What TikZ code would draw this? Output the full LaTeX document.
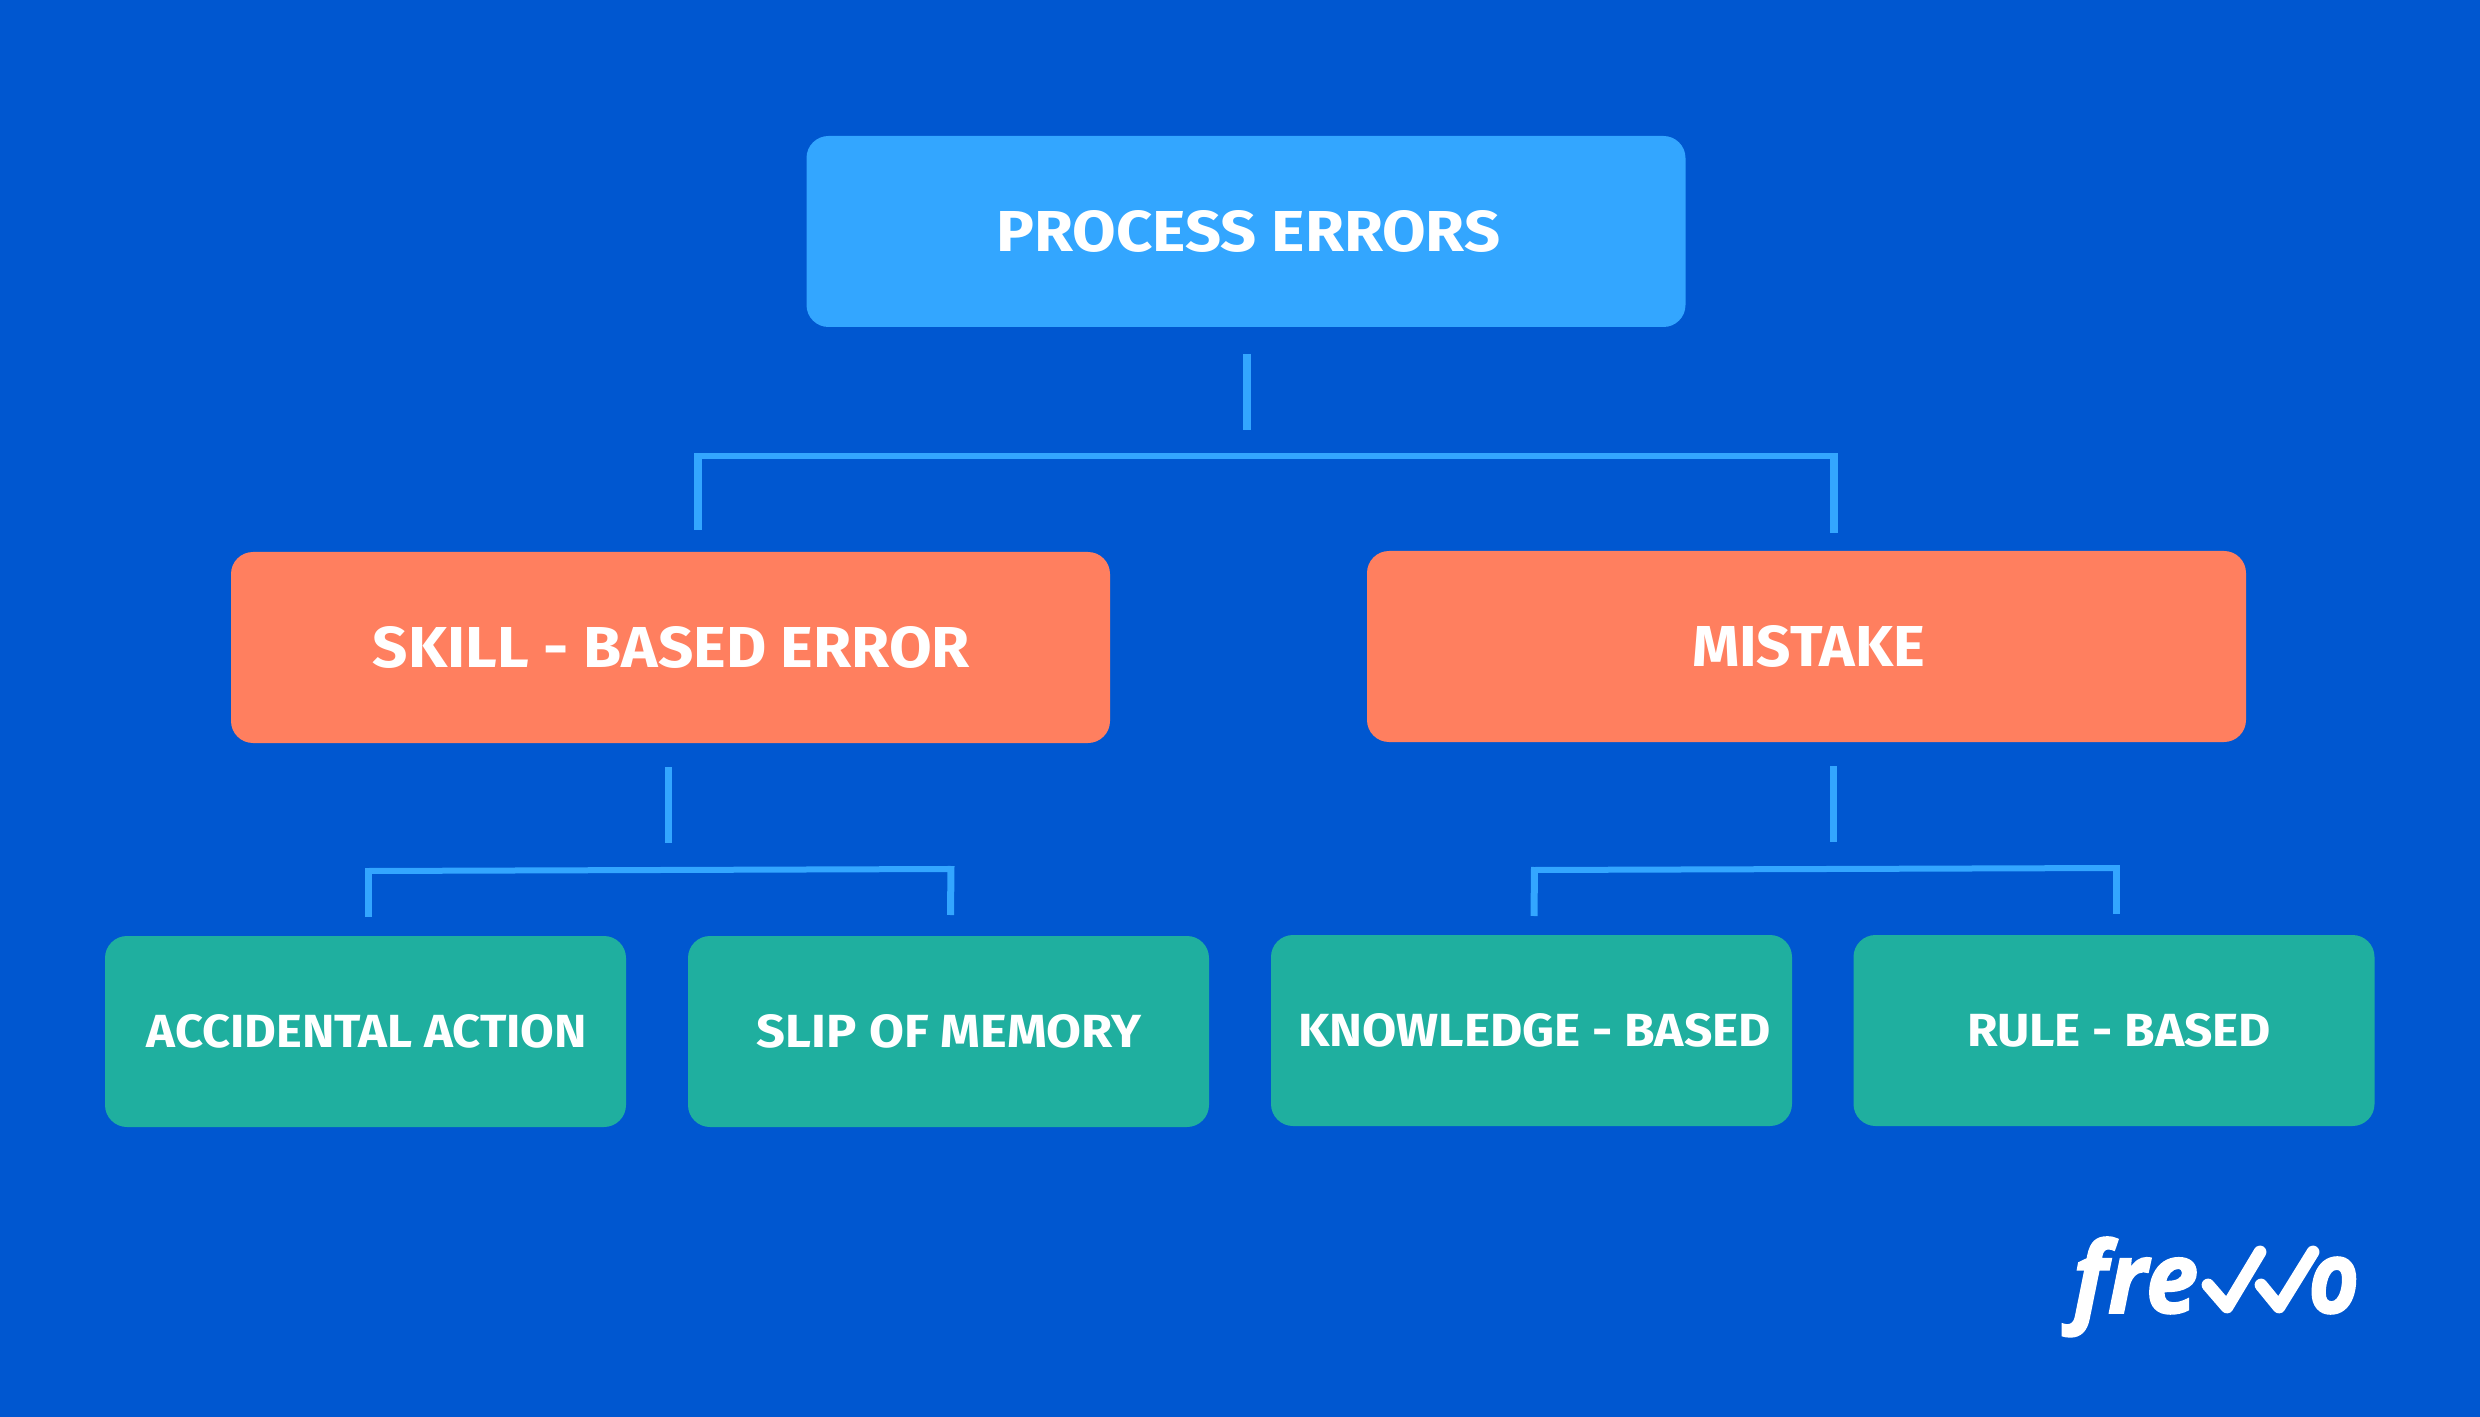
\documentclass[tikz,border=0pt]{standalone}
\usepackage{fontspec}
\usepackage{graphicx}
\setmainfont{Fira Sans}
\newfontfamily\logofont[BoldItalicFeatures={FakeBold=1.6}]{Open Sans}
\definecolor{bgblue}{HTML}{0057D0}
\definecolor{skyblue}{HTML}{33A6FF}
\definecolor{coral}{HTML}{FF7F5F}
\definecolor{teal2}{HTML}{1FAF9F}
\newcommand\lbl[4]{\hspace*{#3pt}\raisebox{-0.6pt}{\resizebox{#1pt}{#2pt}{\bfseries #4}}}
\tikzset{
  box/.style={rounded corners=11pt,inner sep=0pt,text=white,align=center,anchor=center},
  bigbox/.style={box,minimum width=439.5pt,minimum height=95.5pt},
  smallbox/.style={box,minimum width=260.5pt,minimum height=95.5pt},
  topc/.style={bigbox,fill=skyblue},
  midc/.style={bigbox,fill=coral},
  lowc/.style={smallbox,fill=teal2},
  stem/.style={draw=skyblue,line width=4pt},
  thinstem/.style={draw=skyblue,line width=3.5pt},
  brack/.style={draw=skyblue,line width=3pt},
  check/.style={draw=white,line width=6.4pt,line cap=round,line join=round},
  logotext/.style={inner sep=0pt,text=white,font=\logofont\bfseries\itshape}
}
\begin{document}
\begin{tikzpicture}[x=0.5pt,y=-0.5pt]
\useasboundingbox[fill=bgblue] (0,0) rectangle (2480,1417);
% boxes
\node[topc] (top) at (1246,231.5) {\lbl{252}{20.5}{2.5}{PROCESS ERRORS}};
\node[midc] (skill) at (670.5,647.5) {\lbl{298.5}{20.5}{1}{SKILL - BASED ERROR}};
\node[midc] (mistake) at (1806.5,646.5) {\lbl{116.5}{20.5}{2}{MISTAKE}};
\node[lowc] (acc) at (365.5,1031.5) {\lbl{220}{16.5}{1.5}{ACCIDENTAL ACTION}};
\node[lowc] (slip) at (948.5,1031.5) {\lbl{192}{16.5}{0.5}{SLIP OF MEMORY}};
\node[lowc] (know) at (1531.5,1030.5) {\lbl{236.5}{16.5}{3}{KNOWLEDGE - BASED}};
\node[lowc] (rule) at (2114,1030.5) {\lbl{152}{16.5}{5}{RULE - BASED}};
% top connector
\coordinate (s0a) at (1247,354);
\coordinate (s0b) at (1247,430);
\coordinate (b0l) at (698,530);
\coordinate (b0lc) at (698,453);
\coordinate (b0lt) at (698,456);
\coordinate (b0rt) at (1834,456);
\coordinate (b0rc) at (1834,453);
\coordinate (b0r) at (1834,533);
\draw[stem] (s0a) -- (s0b);
\draw[brack] (b0lt) -- (b0rt);
\draw[stem] (b0l) -- (b0lc);
\draw[stem] (b0r) -- (b0rc);
% left connector
\coordinate (s1a) at (668.5,767);
\coordinate (s1b) at (668.5,843);
\coordinate (b1l) at (368.5,917);
\coordinate (b1lc) at (368.5,868);
\coordinate (b1lt) at (368.5,871);
\coordinate (b1rt) at (951,869);
\coordinate (b1rc) at (951,866);
\coordinate (b1r) at (950.5,915);
\draw[thinstem] (s1a) -- (s1b);
\draw[brack] (b1lt) -- (b1rt);
\draw[thinstem] (b1l) -- (b1lc);
\draw[thinstem] (b1r) -- (b1rc);
% right connector
\coordinate (s2a) at (1833.5,766);
\coordinate (s2b) at (1833.5,842);
\coordinate (b2l) at (1534,916);
\coordinate (b2lc) at (1534.5,867);
\coordinate (b2lt) at (1534.5,870);
\coordinate (b2rt) at (2116.5,868);
\coordinate (b2rc) at (2116.5,865);
\coordinate (b2r) at (2116.5,914);
\draw[thinstem] (s2a) -- (s2b);
\draw[brack] (b2lt) -- (b2rt);
\draw[thinstem] (b2l) -- (b2lc);
\draw[thinstem] (b2r) -- (b2rc);
% logo
\node[logotext,anchor=base west] (logofre) at (2072,1313) {\resizebox{63pt}{38pt}{fre}};
\node[logotext,anchor=base west] (logoo) at (2308,1313) {\resizebox{25.5pt}{28pt}{o}};
\coordinate (c1a) at (2208,1285);
\coordinate (c1b) at (2227,1307);
\coordinate (c1c) at (2260,1252);
\coordinate (c2a) at (2261,1285);
\coordinate (c2b) at (2279,1307);
\coordinate (c2c) at (2313,1252);
\draw[check] (c1a) -- (c1b) -- (c1c);
\draw[check] (c2a) -- (c2b) -- (c2c);
\end{tikzpicture}
\end{document}
